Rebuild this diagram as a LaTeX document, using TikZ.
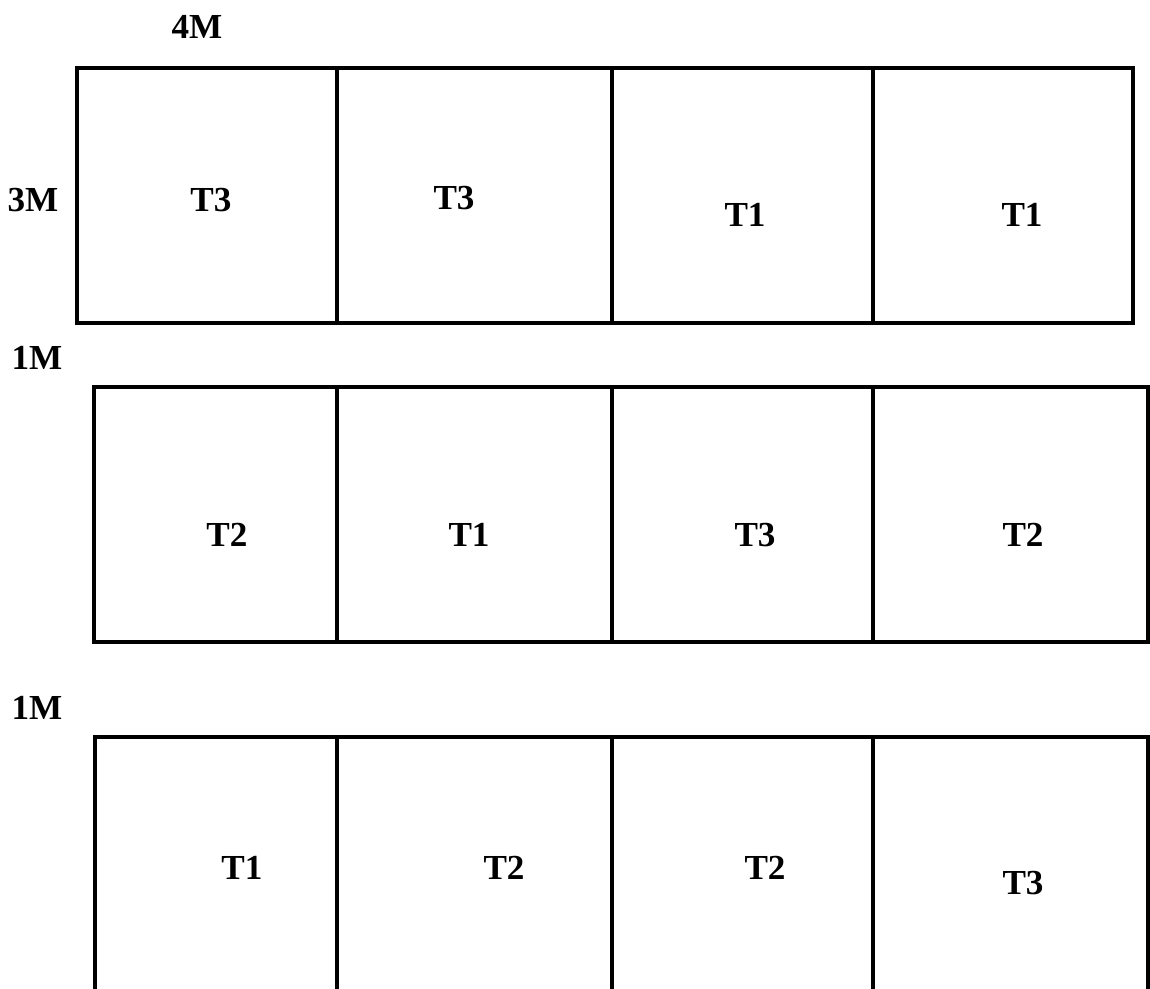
\documentclass[tikz,border=0pt]{standalone}
\usepackage{fontspec}
\setmainfont{Liberation Serif}

\begin{document}
\begin{tikzpicture}[x=0.02cm,y=-0.02cm,
  frame/.style={line width=2.2pt},
  lab/.style={font=\fontsize{20}{24}\selectfont\bfseries,inner sep=0pt}]
\useasboundingbox (0,0) rectangle (1150,989);
% three rows of four cells
\draw[frame] (77,68) rectangle (1133,323);
\draw[frame] (94,387) rectangle (1148,642);
\draw[frame] (95,737) rectangle (1148,991);
\foreach \x in {337,612,873}{
  \draw[frame] (\x,68)--(\x,323);
  \draw[frame] (\x,387)--(\x,642);
  \draw[frame] (\x,737)--(\x,991);
}
% size labels
\node[lab] (wide) at (197,27) {4M};
\node[lab] (high) at (33,200) {3M};
\node[lab] (gapa) at (37,358) {1M};
\node[lab] (gapb) at (37,708) {1M};
% cell labels
\foreach \x/\y/\t/\n in {211/200/T3/a1,454/198/T3/a2,745/215/T1/a3,1022/215/T1/a4,
  227/535/T2/b1,469/535/T1/b2,755/535/T3/b3,1023/535/T2/b4,
  242/868/T1/c1,504/868/T2/c2,765/868/T2/c3,1023/883/T3/c4}{
  \node[lab] (\n) at (\x,\y) {\t};
}
\end{tikzpicture}
\end{document}
